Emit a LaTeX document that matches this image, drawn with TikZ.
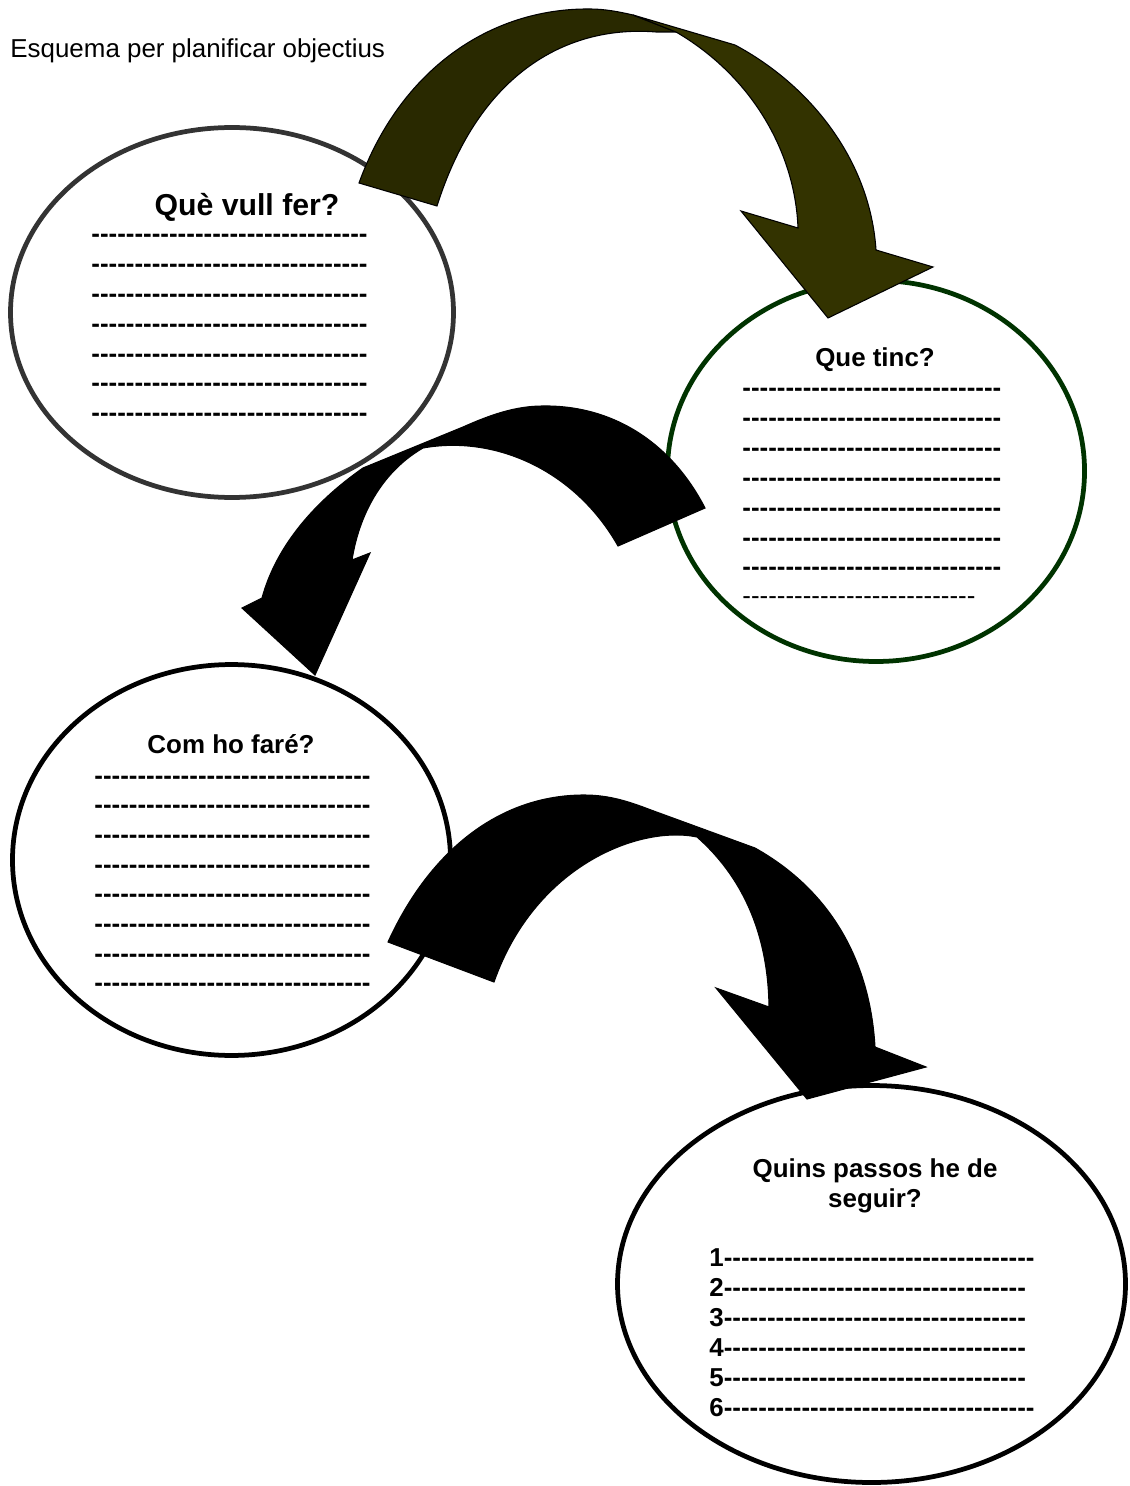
\documentclass[tikz,border=0pt]{standalone}
\usepackage{fontspec}
\setmainfont{Liberation Sans}
\usetikzlibrary{shapes.geometric}

\definecolor{grisfosc}{HTML}{333333}
\definecolor{verdfosc}{HTML}{003300}
\definecolor{olivafosc}{HTML}{292900}
\definecolor{oliva}{HTML}{333300}

\newcommand\guions[1]{\foreach\gu in {1,...,#1}{-}}

\begin{document}
\begin{tikzpicture}[x=0.463pt,y=-0.463pt,
  every node/.style={inner sep=0pt,font=\fontsize{12}{14}\selectfont},
  bombolla/.style={ellipse,draw,fill=white,line width=2.2pt},
  pregunta/.style={anchor=base,font=\fontsize{12}{14}\selectfont\bfseries},
  ratlla/.style={anchor=base west,font=\fontsize{12}{14}\selectfont\bfseries},
  fletxa/.style={draw=black,line width=0.5pt}]
\useasboundingbox (0,0) rectangle (1129,1486);

\node[anchor=base west] (titol) at (10,58) {Esquema per planificar objectius};

% bombolles
\node[bombolla,draw=grisfosc,minimum width=205.1pt,minimum height=171.3pt] (vull) at (232,312.5) {};
\node[bombolla,draw=verdfosc,minimum width=193.1pt,minimum height=176.4pt] (tinc) at (876,471) {};
\node[bombolla,minimum width=202.8pt,minimum height=181.0pt] (fare) at (231.5,860) {};
\node[bombolla,minimum width=235.2pt,minimum height=183.8pt] (passos) at (871.5,1284) {};

% textos
\node[pregunta,font=\fontsize{14}{16}\selectfont\bfseries] (q-vull) at (247,216) {Què vull fer?};
\foreach \k in {0,...,6}
    \node[ratlla] (vull-\k) at (91,243+29.8*\k) {\guions{32}};

\node[pregunta] (q-tinc) at (875,367) {Que tinc?};
\foreach \k in {0,...,6}
    \node[ratlla] (tinc-\k) at (742,397+29.8*\k) {\guions{30}};
\node[anchor=base west] (tinc-7) at (742,604) {\guions{27}};

\node[pregunta] (q-fare) at (231,753) {Com ho faré?};
\foreach \k in {0,...,7}
    \node[ratlla] (fare-\k) at (94,784+29.7*\k) {\guions{32}};

\node[pregunta] (q-passos) at (875,1177) {Quins passos he de};
\node[pregunta] (q-seguir) at (875,1207) {seguir?};
\foreach \pas/\llarg in {1/36,2/35,3/35,4/35,5/35,6/36}
    \node[ratlla] (pas-\pas) at (709,1266+30*\pas-30) {\pas\guions{\llarg}};

% fletxes
\filldraw[fletxa,fill=olivafosc] (359,183)
    .. controls (400,70) and (490,8) .. (590,9)
    .. controls (605,9) and (620,12) .. (633,15)
    -- (676,32) -- (656,32)
    .. controls (570,25) and (480,70) .. (437,206) -- cycle;
\filldraw[fletxa,fill=oliva] (676,32) -- (633,15) -- (735,45)
    .. controls (810,85) and (870,160) .. (876,250)
    -- (933,267) -- (828,318) -- (741,211) -- (798,228)
    .. controls (795,150) and (750,75) .. (676,32) -- cycle;

\filldraw[fletxa,fill=black] (705,508)
    .. controls (670,440) and (610,405) .. (543,406)
    .. controls (515,406) and (490,415) .. (463,427)
    -- (363,468)
    .. controls (310,505) and (275,550) .. (262,598)
    -- (242,608) -- (315,675) -- (370,553) -- (352,560)
    .. controls (360,510) and (385,470) .. (423,448)
    .. controls (495,435) and (575,470) .. (618,546) -- cycle;

\filldraw[fletxa,fill=black] (388,942)
    .. controls (430,850) and (500,795) .. (584,795)
    .. controls (610,795) and (630,802) .. (651,810)
    -- (755,848)
    .. controls (830,890) and (870,960) .. (875,1047)
    -- (926,1067) -- (807,1099) -- (716,988) -- (769,1007)
    .. controls (768,930) and (740,875) .. (697,837)
    .. controls (640,825) and (535,865) .. (494,982) -- cycle;
\end{tikzpicture}
\end{document}
